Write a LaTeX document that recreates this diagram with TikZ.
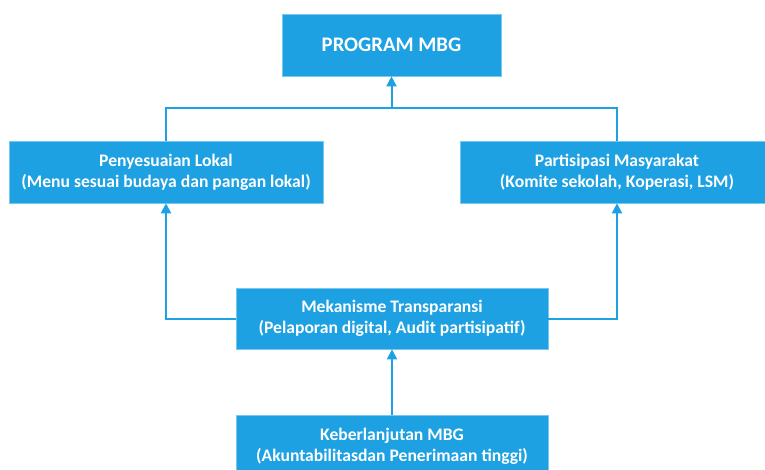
\documentclass[tikz,border=0pt]{standalone}
\usepackage{fontspec}
\setmainfont{Carlito}
\usetikzlibrary{arrows.meta}
\definecolor{mbgblue}{RGB}{29,161,226}
\begin{document}
\begin{tikzpicture}[x=1pt,y=1pt,
  box/.style={fill=mbgblue,draw=mbgblue!60!white,line width=0.6pt,inner sep=0pt,
    text=white,font=\bfseries\fontsize{17.6}{21}\selectfont,align=center,
    minimum height=62pt},
  conn/.style={draw=mbgblue,line width=2pt},
  arr/.style={conn,-{Triangle[width=10pt,length=10pt]}}]
\useasboundingbox (0,0) rectangle (765,-470);
\clip (0,0) rectangle (765,-470);
\node[box,minimum width=219pt,font=\bfseries\fontsize{20.7}{24}\selectfont] (P) at (391.5,-45) {PROGRAM MBG};
\node[box,minimum width=314pt] (L) at (166,-172) {Penyesuaian Lokal\\(Menu sesuai budaya dan pangan lokal)};
\node[box,minimum width=314pt] (R) at (617,-172) {Partisipasi Masyarakat\\(Komite sekolah, Koperasi, LSM)};
\node[box,minimum width=312pt,minimum height=61pt] (M) at (392,-318.5) {Mekanisme Transparansi\\(Pelaporan digital, Audit partisipatif)};
\node[box,minimum width=312pt] (B) at (392,-446) {Keberlanjutan MBG\\(Akuntabilitasdan Penerimaan tinggi)};
\coordinate (J) at (391.5,-108);
\draw[conn] (L.north) |- (J) -| (R.north);
\draw[arr] (J) -- (P.south);
\draw[arr] (M.west) -| (L.south);
\draw[arr] (M.east) -| (R.south);
\draw[arr] (B.north) -- (M.south);
\end{tikzpicture}
\end{document}
